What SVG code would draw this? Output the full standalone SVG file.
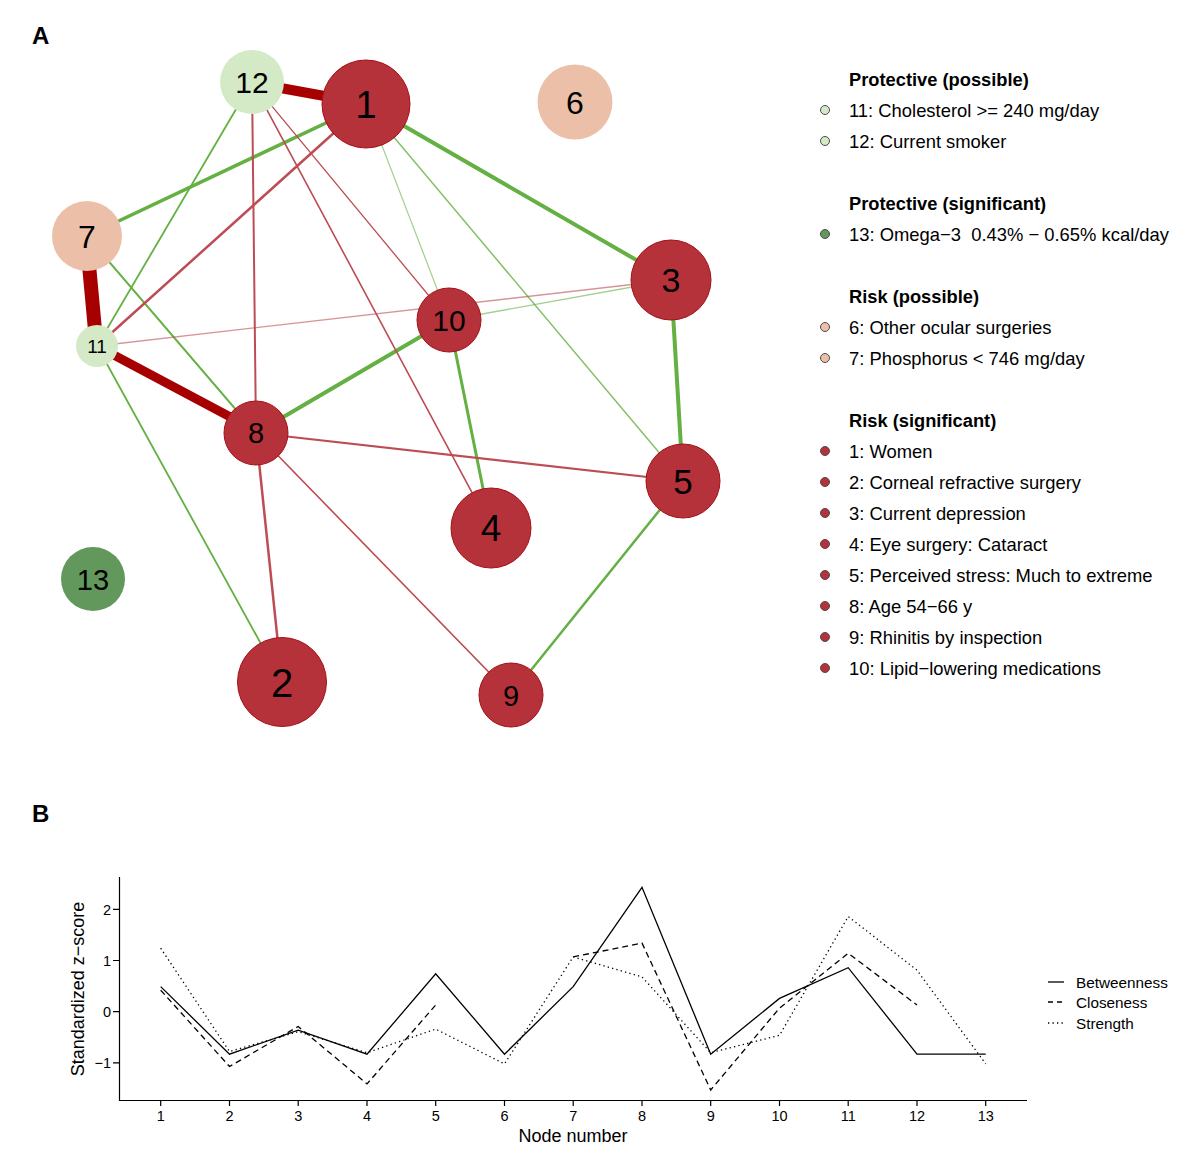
<svg xmlns="http://www.w3.org/2000/svg" width="1200" height="1166" viewBox="0 0 1200 1166">
<style>
text{font-family:"Liberation Sans",Arial,sans-serif;fill:#000}
.rs{fill:#b5323a;stroke:#a50f15;stroke-width:1}
.pp{fill:#d4eac7}
.rp{fill:#ecc0a8}
.ps{fill:#62985b}
.lbl{text-anchor:middle}
.g{stroke:#64b043;fill:none;stroke-linecap:round}
.r{stroke:#bd4d54;fill:none;stroke-linecap:round}
.dr{stroke:#a60000;fill:none;stroke-linecap:round}
.hd{font-size:18.3px;font-weight:bold}
.it{font-size:18.4px;white-space:pre}
.lm{stroke:#4d4d4d;stroke-width:1}
.ax{stroke:#000;stroke-width:1.2;fill:none}
.tk{font-size:14.5px}
.ser{stroke:#000;stroke-width:1.3;fill:none}
</style>
<text x="32" y="44" style="font-size:24px;font-weight:bold">A</text>
<text x="32" y="822" style="font-size:24px;font-weight:bold">B</text>
<g id="connectors">
<line class="g" x1="366" y1="104" x2="671" y2="280" stroke-width="4"/>
<line class="g" x1="366" y1="104" x2="87" y2="236" stroke-width="3.5"/>
<line class="g" x1="366" y1="104" x2="449" y2="320" stroke-width="1.2" stroke-opacity="0.6"/>
<line class="g" x1="366" y1="104" x2="683" y2="481" stroke-width="1.5" stroke-opacity="0.8"/>
<line class="g" x1="252" y1="82" x2="97" y2="346" stroke-width="1.8"/>
<line class="g" x1="87" y1="236" x2="256" y2="433" stroke-width="2"/>
<line class="g" x1="449" y1="320" x2="671" y2="280" stroke-width="1.3" stroke-opacity="0.6"/>
<line class="g" x1="449" y1="320" x2="256" y2="433" stroke-width="4"/>
<line class="g" x1="449" y1="320" x2="491" y2="528" stroke-width="3"/>
<line class="g" x1="671" y1="280" x2="683" y2="481" stroke-width="4"/>
<line class="g" x1="97" y1="346" x2="282" y2="682" stroke-width="1.8"/>
<line class="g" x1="683" y1="481" x2="511" y2="695" stroke-width="2.5"/>
<line class="r" x1="366" y1="104" x2="97" y2="346" stroke-width="2.5"/>
<line class="r" x1="252" y1="82" x2="256" y2="433" stroke-width="2"/>
<line class="r" x1="252" y1="82" x2="449" y2="320" stroke-width="1.3"/>
<line class="r" x1="252" y1="82" x2="491" y2="528" stroke-width="1.6"/>
<line class="r" x1="97" y1="346" x2="671" y2="280" stroke-width="1.3" stroke-opacity="0.6"/>
<line class="r" x1="256" y1="433" x2="683" y2="481" stroke-width="2.2"/>
<line class="r" x1="256" y1="433" x2="511" y2="695" stroke-width="1.6"/>
<line class="r" x1="256" y1="433" x2="282" y2="682" stroke-width="2.5"/>
<line class="dr" x1="275" y1="87" x2="330" y2="97" stroke-width="10"/>
<line class="dr" x1="89" y1="265" x2="95" y2="330" stroke-width="14"/>
<line class="dr" x1="110" y1="353" x2="236" y2="420" stroke-width="9" stroke="#a8282c"/>
</g>
<g id="node1"><circle class="rs" cx="366" cy="104" r="44"/><text class="lbl" x="366" y="118" font-size="38">1</text></g>
<g id="node2"><circle class="rs" cx="282" cy="682" r="44.5"/><text class="lbl" x="282" y="697" font-size="40">2</text></g>
<g id="node3"><circle class="rs" cx="671" cy="280" r="40"/><text class="lbl" x="671" y="292" font-size="34">3</text></g>
<g id="node4"><circle class="rs" cx="491" cy="528" r="40"/><text class="lbl" x="491" y="541" font-size="37">4</text></g>
<g id="node5"><circle class="rs" cx="683" cy="481" r="37"/><text class="lbl" x="683" y="494" font-size="35">5</text></g>
<g id="node6"><circle class="rp" cx="575" cy="102" r="37.5"/><text class="lbl" x="575" y="114" font-size="32">6</text></g>
<g id="node7"><circle class="rp" cx="87" cy="236" r="35"/><text class="lbl" x="87" y="248" font-size="32">7</text></g>
<g id="node8"><circle class="rs" cx="256" cy="433" r="32"/><text class="lbl" x="256" y="443" font-size="29">8</text></g>
<g id="node9"><circle class="rs" cx="511" cy="695" r="32"/><text class="lbl" x="511" y="706" font-size="29">9</text></g>
<g id="node10"><circle class="rs" cx="449" cy="320" r="32"/><text class="lbl" x="449" y="331" font-size="30">10</text></g>
<g id="node11"><circle class="pp" cx="97" cy="346" r="21"/><text class="lbl" x="97" y="353" font-size="19">11</text></g>
<g id="node12"><circle class="pp" cx="252" cy="82" r="32"/><text class="lbl" x="252" y="93" font-size="30">12</text></g>
<g id="node13"><circle class="ps" cx="93" cy="579" r="32"/><text class="lbl" x="93" y="590" font-size="29">13</text></g>
<g id="legendA">
<text class="hd" x="849" y="86">Protective (possible)</text>
<circle class="pp lm" cx="825" cy="110" r="4.5"/><text class="it" x="849" y="116.5">11: Cholesterol &gt;= 240 mg/day</text>
<circle class="pp lm" cx="825" cy="141" r="4.5"/><text class="it" x="849" y="147.5">12: Current smoker</text>
<text class="hd" x="849" y="210">Protective (significant)</text>
<circle class="ps lm" cx="825" cy="234" r="4.5"/><text class="it" x="849" y="240.5" xml:space="preserve">13: Omega−3  0.43% − 0.65% kcal/day</text>
<text class="hd" x="849" y="303">Risk (possible)</text>
<circle class="rp lm" cx="825" cy="327" r="4.5"/><text class="it" x="849" y="333.5">6: Other ocular surgeries</text>
<circle class="rp lm" cx="825" cy="358" r="4.5"/><text class="it" x="849" y="364.5">7: Phosphorus &lt; 746 mg/day</text>
<text class="hd" x="849" y="427">Risk (significant)</text>
<circle class="rs lm" cx="825" cy="451" r="4.5"/><text class="it" x="849" y="457.5">1: Women</text>
<circle class="rs lm" cx="825" cy="482" r="4.5"/><text class="it" x="849" y="488.5">2: Corneal refractive surgery</text>
<circle class="rs lm" cx="825" cy="513" r="4.5"/><text class="it" x="849" y="519.5">3: Current depression</text>
<circle class="rs lm" cx="825" cy="544" r="4.5"/><text class="it" x="849" y="550.5">4: Eye surgery: Cataract</text>
<circle class="rs lm" cx="825" cy="575" r="4.5"/><text class="it" x="849" y="581.5">5: Perceived stress: Much to extreme</text>
<circle class="rs lm" cx="825" cy="606" r="4.5"/><text class="it" x="849" y="612.5">8: Age 54−66 y</text>
<circle class="rs lm" cx="825" cy="637" r="4.5"/><text class="it" x="849" y="643.5">9: Rhinitis by inspection</text>
<circle class="rs lm" cx="825" cy="668" r="4.5"/><text class="it" x="849" y="674.5">10: Lipid−lowering medications</text>
</g>
<g id="chartB">
<path class="ax" d="M119.5 877 V1100.5 H1027"/>
<path class="ax" d="M113 909.3 H119.5 M113 960.5 H119.5 M113 1011.7 H119.5 M113 1062.9 H119.5"/>
<g class="tk" text-anchor="end">
<text x="111" y="914.5">2</text>
<text x="111" y="965.7">1</text>
<text x="111" y="1016.9">0</text>
<text x="111" y="1068.1">−1</text>
</g>
<path class="ax" d="M160.7 1100.5 V1106 M229.5 1100.5 V1106 M298.2 1100.5 V1106 M367 1100.5 V1106 M435.7 1100.5 V1106 M504.5 1100.5 V1106 M573.2 1100.5 V1106 M642 1100.5 V1106 M710.7 1100.5 V1106 M779.5 1100.5 V1106 M848.2 1100.5 V1106 M917 1100.5 V1106 M985.7 1100.5 V1106"/>
<g class="tk" text-anchor="middle">
<text x="160.7" y="1121">1</text>
<text x="229.5" y="1121">2</text>
<text x="298.2" y="1121">3</text>
<text x="367" y="1121">4</text>
<text x="435.7" y="1121">5</text>
<text x="504.5" y="1121">6</text>
<text x="573.2" y="1121">7</text>
<text x="642" y="1121">8</text>
<text x="710.7" y="1121">9</text>
<text x="779.5" y="1121">10</text>
<text x="848.2" y="1121">11</text>
<text x="917" y="1121">12</text>
<text x="985.7" y="1121">13</text>
</g>
<text x="573" y="1142" text-anchor="middle" font-size="18">Node number</text>
<text transform="translate(84 989) rotate(-90)" text-anchor="middle" font-size="18">Standardized z−score</text>
<polyline class="ser" points="160.7,986.6 229.5,1054.2 298.2,1030.1 367,1054.2 435.7,973.8 504.5,1054.2 573.2,986.6 642,887.3 710.7,1054.2 779.5,998.4 848.2,967.7 917,1054.2 985.7,1054.2"/>
<polyline class="ser" stroke-dasharray="6 4" points="160.7,990.2 229.5,1066.5 298.2,1026.5 367,1083.9 435.7,1005.0"/>
<polyline class="ser" stroke-dasharray="6 4" points="573.2,956.9 642,943.1 710.7,1090.0 779.5,1008.1 848.2,953.3 917,1005.0"/>
<polyline class="ser" stroke-dasharray="1.3 3.2" points="160.7,948.2 229.5,1051.6 298.2,1031.7 367,1052.7 435.7,1029.1 504.5,1063.9 573.2,956.9 642,976.9 710.7,1052.7 779.5,1035.3 848.2,916.5 917,970.2 985.7,1063.9"/>
<line class="ser" x1="1048" y1="982" x2="1064" y2="982"/>
<line class="ser" x1="1048" y1="1002" x2="1064" y2="1002" stroke-dasharray="5 4"/>
<line class="ser" x1="1048" y1="1023" x2="1064" y2="1023" stroke-dasharray="1.3 3.2"/>
<text x="1076" y="987.5" font-size="15.3">Betweenness</text>
<text x="1076" y="1007.5" font-size="15.3">Closeness</text>
<text x="1076" y="1028.5" font-size="15.3">Strength</text>
</g>
</svg>
